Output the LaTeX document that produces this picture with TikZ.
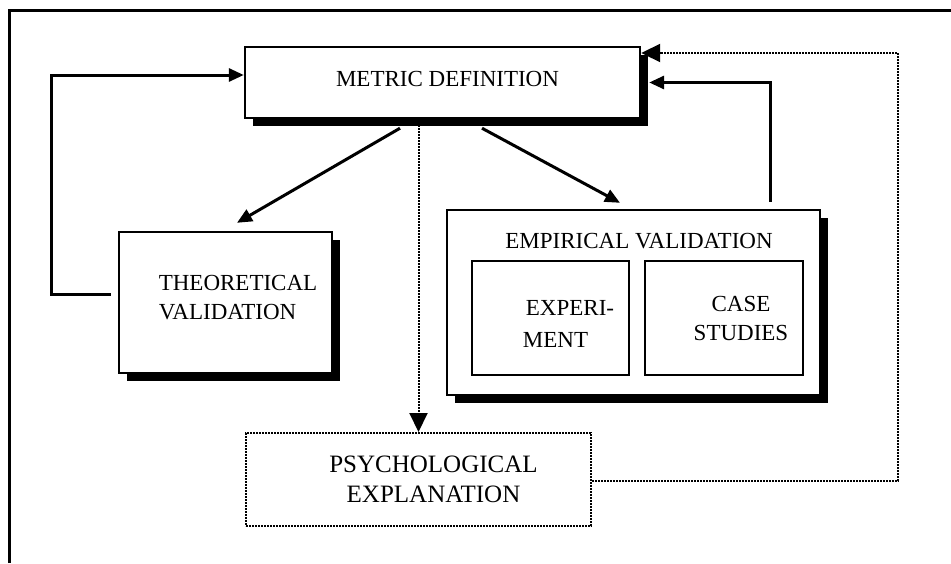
\documentclass[tikz,border=0pt]{standalone}
\usepackage{fontspec}
\setmainfont{Liberation Serif}
\usetikzlibrary{arrows.meta,shadows}
\begin{document}
\begin{tikzpicture}[x=1pt,y=-1pt,
  txt/.style={font=\fontsize{23}{29}\selectfont},
  shbox/.style={draw, line width=2.4pt, fill=white, inner sep=0pt, txt,
    drop shadow={shadow xshift=8pt, shadow yshift=-8pt, fill=black, opacity=1}},
  inbox/.style={draw, line width=2.2pt, fill=white, inner sep=0pt, txt, align=center},
  dotbox/.style={draw, line width=2pt, dash pattern=on 2pt off 1pt, fill=white,
    inner sep=0pt, font=\fontsize{25}{30}\selectfont, align=center},
  arr/.style={line width=3pt, -{Triangle[length=15pt,width=13pt]}},
  dotarr/.style={line width=2pt, dash pattern=on 2pt off 1pt,
    -{Triangle[length=19pt,width=18pt]}},
  frame/.style={line width=3pt}
]
\useasboundingbox (0,0) rectangle (951,563);
\draw[frame] (9,563) -- (9,10) -- (951,10);

\node[shbox, minimum width=395pt, minimum height=71pt, align=center] (md) at (442.5,82.5)
  {\hspace*{10pt}METRIC DEFINITION\\[-22pt]\mbox{}};
\node[shbox, minimum width=213pt, minimum height=141pt, align=left] (tv) at (225.5,302.5)
  {\hspace*{25pt}THEORETICAL\\\hspace*{25pt}VALIDATION\\[-18pt]\mbox{}};
\node[shbox, minimum width=373pt, minimum height=185pt] (ev) at (633.5,302.5) {};
\node[txt, inner sep=0pt] (evt) at (639,241) {EMPIRICAL VALIDATION};
\node[inbox, minimum width=157pt, minimum height=114pt, align=left] (ex) at (550.5,318)
  {\hspace*{39pt}EXPERI-\\[3pt]\hspace*{36pt}MENT\\[-40pt]\mbox{}};
\node[inbox, minimum width=158pt, minimum height=114pt] (cs) at (724,318)
  {\hspace*{34pt}CASE\\\hspace*{34pt}STUDIES};
\node[dotbox, minimum width=345pt, minimum height=93pt] (ps) at (418.5,479.5)
  {\hspace*{30pt}PSYCHOLOGICAL\\\hspace*{30pt}EXPLANATION};

% connectors
\draw[arr, shorten <=7pt] ([yshift=8.5pt]tv.west) -- ++(-66,0) |- ([yshift=7.5pt]md.west);
\draw[arr] ([xshift=-42.5pt,yshift=-9pt]md.south) -- ([xshift=11.5pt,yshift=8pt]tv.north);
\draw[arr] ([xshift=39.5pt,yshift=-9pt]md.south) -- ([xshift=-13.5pt,yshift=6pt]ev.north);
\draw[dotarr] (md.south -| ps.north) -- (ps.north);
\draw[arr] ([xshift=136.5pt,yshift=7pt]ev.north) |- ([xshift=8pt]md.east);
\draw[dotarr] ([yshift=-1.5pt]ps.east) -- ++(306,0) |- ([yshift=29.5pt]md.east);
\end{tikzpicture}
\end{document}
